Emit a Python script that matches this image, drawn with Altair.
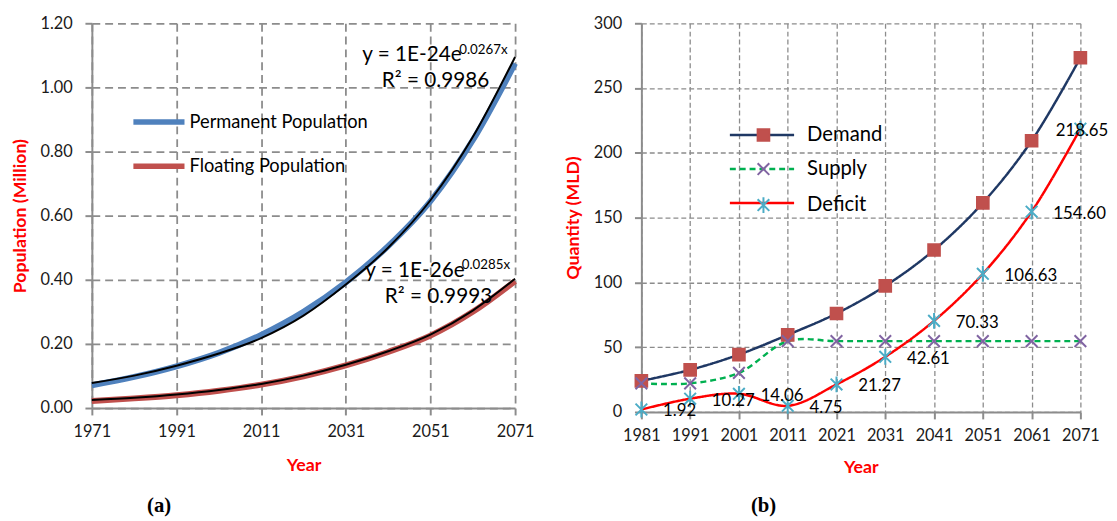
import altair as alt
import pandas as pd

FONT = "Lato"
GRID = "#8c8c8c"

# ---------------- Panel (a) data ----------------
years_a = [1971, 1981, 1991, 2001, 2011, 2021, 2031, 2041, 2051, 2061, 2071]
permanent = [0.071, 0.097, 0.130, 0.172, 0.228, 0.300, 0.392, 0.505, 0.645, 0.835, 1.075]
permanent_fit = [0.078, 0.101, 0.132, 0.170, 0.218, 0.288, 0.385, 0.500, 0.648, 0.845, 1.095]
floating = [0.022, 0.030, 0.040, 0.054, 0.073, 0.099, 0.133, 0.175, 0.226, 0.300, 0.396]
floating_fit = [0.025, 0.032, 0.042, 0.056, 0.075, 0.101, 0.135, 0.177, 0.229, 0.304, 0.403]
series_a = ["Permanent Population", "Floating Population"]
ticks_year_a = [1971, 1991, 2011, 2031, 2051, 2071]
ticks_pop = [0.0, 0.2, 0.4, 0.6, 0.8, 1.0, 1.2]

eq_text = ["y = 1E-24e", "y = 1E-26e"]
eq_year = [2034.9, 2035.6]
eq_val = [1.100, 0.428]
exp_text = ["0.0267x", "0.0285x"]
exp_year = [2057.8, 2058.4]
exp_val = [1.118, 0.446]
r2_text = ["R² = 0.9986", "R² = 0.9993"]
r2_year = [2039.5, 2040.2]
r2_val = [1.020, 0.346]

# ---------------- Panel (b) data ----------------
years_b = [1981, 1991, 2001, 2011, 2021, 2031, 2041, 2051, 2061, 2071]
demand = [24.0, 32.5, 44.3, 59.5, 76.0, 97.3, 125.0, 161.4, 209.3, 273.4]
supply = [22.1, 22.1, 30.2, 54.7, 54.7, 54.7, 54.7, 54.7, 54.7, 54.7]
deficit = [1.92, 10.27, 14.06, 4.75, 21.27, 42.61, 70.33, 106.63, 154.60, 218.65]
series_b = ["Demand", "Supply", "Deficit"]
ticks_qty = [0, 50, 100, 150, 200, 250, 300]

# ---------------- tables ----------------
n_a = len(years_a)
df_a = pd.DataFrame({
    "Year": years_a * 2,
    "Population": permanent + floating,
    "PopSeries": [series_a[0]] * n_a + [series_a[1]] * n_a,
})
df_fit = pd.DataFrame({
    "Year": years_a * 2,
    "Population": permanent_fit + floating_fit,
    "Fit": ["p"] * n_a + ["f"] * n_a,
})
df_eq = pd.DataFrame({"Year": eq_year, "Population": eq_val, "label": eq_text})
df_exp = pd.DataFrame({"Year": exp_year, "Population": exp_val, "label": exp_text})
df_r2 = pd.DataFrame({"Year": r2_year, "Population": r2_val, "label": r2_text})

n_b = len(years_b)
df_b = pd.DataFrame({
    "Year": years_b * 3,
    "Quantity": demand + supply + deficit,
    "Series": [series_b[0]] * n_b + [series_b[1]] * n_b + [series_b[2]] * n_b,
})
df_b["Marker"] = df_b["Series"]
df_def = pd.DataFrame({"Year": years_b, "Quantity": deficit})

# ---------------- Panel (a) ----------------
W_A, H_A = 429, 390
x_a = alt.X("Year:Q", scale=alt.Scale(domain=[1971, 2071], nice=False, zero=False),
            axis=alt.Axis(values=ticks_year_a, format="d", title="Year", gridDash=[8, 5],
                          gridWidth=1.8, labelPadding=9, titlePadding=17,
                          labelFlush=False, labelOverlap=False))
y_a = alt.Y("Population:Q", scale=alt.Scale(domain=[0, 1.2], nice=False),
            axis=alt.Axis(values=ticks_pop, format=".2f", title="Population (Million)",
                          gridDash=[8, 5], gridWidth=1.8, labelPadding=13, titlePadding=11,
                          labelFlush=False, labelOverlap=False))

leg_a = alt.Legend(title=None, orient="none", legendX=58, legendY=90,
                   symbolType="M-3.7,0L3.7,0", symbolSize=196, symbolStrokeWidth=5.5,
                   labelFont=FONT, labelFontSize=18.5, labelColor="#000000", labelLimit=400,
                   labelOffset=21, rowPadding=23, padding=0)

lines_a = alt.Chart(df_a).mark_line(strokeWidth=6, interpolate="monotone").encode(
    x=x_a, y=y_a,
    color=alt.Color("PopSeries:N", scale=alt.Scale(domain=series_a, range=["#4F81BD", "#C0504D"]),
                    legend=leg_a),
)
fit_a = alt.Chart(df_fit).mark_line(strokeWidth=2, color="#000000", interpolate="monotone").encode(
    x="Year:Q", y="Population:Q", detail="Fit:N"
)
eq_a = alt.Chart(df_eq).mark_text(align="left", baseline="middle", font=FONT, fontSize=21,
                                  color="#000000").encode(x="Year:Q", y="Population:Q", text="label:N")
exp_a = alt.Chart(df_exp).mark_text(align="left", baseline="middle", font=FONT, fontSize=13.5,
                                    color="#000000").encode(x="Year:Q", y="Population:Q", text="label:N")
r2_a = alt.Chart(df_r2).mark_text(align="left", baseline="middle", font=FONT, fontSize=21,
                                  color="#000000").encode(x="Year:Q", y="Population:Q", text="label:N")

panel_a = alt.layer(lines_a, fit_a, eq_a, exp_a, r2_a).properties(
    width=W_A, height=H_A,
    title=alt.TitleParams("(a)", orient="bottom", anchor="start", frame="group", dx=56,
                          font="Liberation Serif", fontSize=21, fontWeight="bold",
                          color="#000000", offset=21),
)

# ---------------- Panel (b) ----------------
W_B, H_B = 445, 394
x_b = alt.X("Year:Q", scale=alt.Scale(domain=[1981, 2071], nice=False, zero=False),
            axis=alt.Axis(values=years_b, format="d", title="Year", gridDash=[5, 3],
                          gridWidth=1.3, labelPadding=9, titlePadding=15,
                          labelFlush=False, labelOverlap=False))
y_b = alt.Y("Quantity:Q", scale=alt.Scale(domain=[0, 300], nice=False),
            axis=alt.Axis(values=ticks_qty, format="d", title="Quantity (MLD)",
                          gridDash=[5, 3], gridWidth=1.3, labelPadding=13, titlePadding=11,
                          labelFlush=False, labelOverlap=False))

X_PATH = "M-1,-1L1,1M-1,1L1,-1"
AST_PATH = "M-1,-1L1,1M-1,1L1,-1M0,-1.35L0,1.35"
line_colors = ["#1F3864", "#00B050", "#FF0000"]
# marker scale uses alphabetical domain so that its legend stays separate from the line legend
marker_domain = ["Deficit", "Demand", "Supply"]
marker_colors = ["#4BACC6", "#C0504D", "#8064A2"]
marker_shapes = [AST_PATH, "square", X_PATH]

leg_line_b = alt.Legend(title=None, orient="none", legendX=112, legendY=103,
                        symbolType="M-4.65,0L4.65,0", symbolSize=196, symbolStrokeWidth=2.5,
                        labelFont=FONT, labelFontSize=20.5, labelColor="transparent", labelLimit=400,
                        labelOffset=34, rowPadding=13.5, padding=0, zindex=1)
leg_mark_b = alt.Legend(title=None, orient="none", legendX=113.5, legendY=103, values=series_b,
                        symbolSize=140, symbolStrokeWidth=2, symbolFillColor="#C0504D",
                        labelLimit=400, labelFont=FONT, labelFontSize=20.5, labelColor="#000000",
                        labelOffset=34, rowPadding=13.5, padding=0, zindex=2)

lines_b = alt.Chart(df_b).mark_line(strokeWidth=2.5, interpolate="catmull-rom").encode(
    x=x_b, y=y_b,
    stroke=alt.Stroke("Series:N", scale=alt.Scale(domain=series_b, range=line_colors),
                      legend=leg_line_b),
    strokeDash=alt.StrokeDash("Series:N", scale=alt.Scale(domain=series_b, range=[[1, 0], [6, 4], [1, 0]]),
                              legend=leg_line_b),
)
points_b = alt.Chart(df_b).mark_point(filled=False, opacity=1, size=140, strokeWidth=2).encode(
    x="Year:Q", y="Quantity:Q",
    color=alt.Color("Marker:N", scale=alt.Scale(domain=marker_domain, range=marker_colors),
                    legend=leg_mark_b),
    shape=alt.Shape("Marker:N", scale=alt.Scale(domain=marker_domain, range=marker_shapes),
                    legend=leg_mark_b),
    fill=alt.Fill("Marker:N", scale=alt.Scale(domain=marker_domain, range=marker_colors), legend=None),
)
labels_b = alt.Chart(df_def).transform_filter("datum.Year < 2071").mark_text(
    align="left", baseline="middle", dx=22, dy=2, font=FONT, fontSize=17, color="#000000"
).encode(x="Year:Q", y="Quantity:Q", text=alt.Text("Quantity:Q", format=".2f"))
label_last_b = alt.Chart(df_def).transform_filter("datum.Year == 2071").mark_text(
    align="left", baseline="middle", dx=-25, dy=2, font=FONT, fontSize=17, color="#000000"
).encode(x="Year:Q", y="Quantity:Q", text=alt.Text("Quantity:Q", format=".2f"))

panel_b = alt.layer(lines_b, points_b, labels_b, label_last_b).properties(
    width=W_B, height=H_B,
    title=alt.TitleParams("(b)", orient="bottom", anchor="start", frame="group", dx=111,
                          font="Liberation Serif", fontSize=21, fontWeight="bold",
                          color="#000000", offset=19),
)

chart = alt.hconcat(panel_a, panel_b, spacing=30).resolve_scale(
    x="independent", y="independent", color="independent", strokeDash="independent",
    shape="independent", fill="independent", stroke="independent",
).resolve_legend(
    color="independent", strokeDash="independent", shape="independent",
    fill="independent", stroke="independent",
).properties(
    padding={"left": 3, "top": 4, "right": 0, "bottom": 0}
).configure_view(stroke=None).configure_axis(
    labelFont=FONT, labelFontSize=16.5, labelColor="#1a1a1a",
    domainColor=GRID, domainWidth=2, tickColor=GRID, tickWidth=2, tickSize=7,
    gridColor=GRID, titleColor="#FF0000", titleFont=FONT, titleFontWeight="bold",
    titleFontSize=18,
)

chart.save("out.html", embed_options={"renderer": "svg", "actions": False})
